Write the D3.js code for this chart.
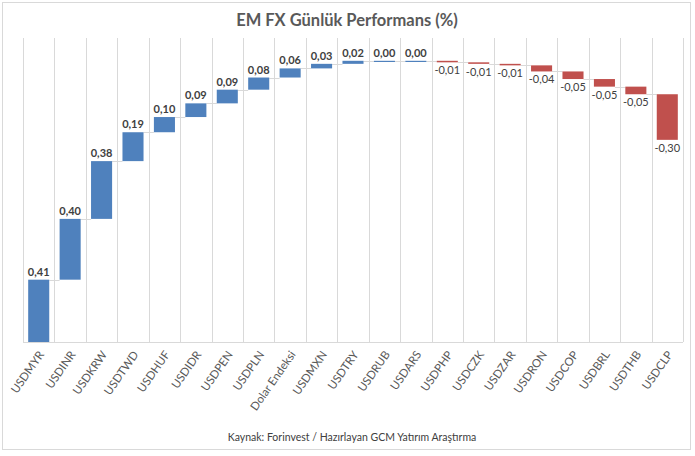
<!DOCTYPE html>
<html>
<head>
<meta charset="utf-8">
<script src="https://cdn.jsdelivr.net/npm/d3@7"></script>
<style>
  body { margin: 0; background: #fff; }
  text { font-family: Lato, "Open Sans", sans-serif; }
</style>
</head>
<body>
<div id="chart"></div>
<script>
const categories = [
  "USDMYR", "USDINR", "USDKRW", "USDTWD", "USDHUF", "USDIDR", "USDPEN",
  "USDPLN", "Dolar Endeksi", "USDMXN", "USDTRY", "USDRUB", "USDARS",
  "USDPHP", "USDCZK", "USDZAR", "USDRON", "USDCOP", "USDBRL", "USDTHB", "USDCLP"
];
const values = [
  0.41, 0.40, 0.38, 0.19, 0.10, 0.09, 0.09,
  0.08, 0.06, 0.03, 0.02, 0.00, 0.00,
  -0.01, -0.01, -0.01, -0.04, -0.05, -0.05, -0.05, -0.30
];
const yDomain = [0, 2];

const width = 695;
const height = 456;
const margin = { top: 38, right: 12, bottom: 114, left: 23 };

const blue = "#4f81bd";
const red = "#c0504d";
const grid = "#d9d9d9";

// waterfall steps
let run = 0;
const steps = values.map((v, i) => {
  const start = run;
  run += v;
  return { name: categories[i], value: v, start: start, end: run };
});

const svg = d3
  .select("#chart")
  .append("svg")
  .attr("width", width)
  .attr("height", height);

svg
  .append("rect")
  .attr("x", 2.5)
  .attr("y", 2.5)
  .attr("width", 688)
  .attr("height", 447)
  .attr("fill", "#fff")
  .attr("stroke", grid);

const x = d3
  .scaleBand()
  .domain(categories)
  .range([margin.left, width - margin.right])
  .paddingInner(0.33)
  .paddingOuter(0.165);

const y = d3
  .scaleLinear()
  .domain(yDomain)
  .range([height - margin.bottom, margin.top]);

const step = x.step();
const cellLeft = (d) => x(d) - (step * x.paddingInner()) / 2;

// vertical gridlines at category edges
const edges = categories.map(cellLeft).concat([width - margin.right]);
svg
  .append("g")
  .selectAll("line")
  .data(edges)
  .enter()
  .append("line")
  .attr("x1", (d) => Math.round(d) + 0.5)
  .attr("x2", (d) => Math.round(d) + 0.5)
  .attr("y1", y(yDomain[1]))
  .attr("y2", y(0))
  .attr("stroke", grid)
  .attr("stroke-width", 1);

// x axis
const xAxis = svg
  .append("g")
  .attr("transform", `translate(0,${y(0) + 0.5})`)
  .call(d3.axisBottom(x).tickSize(0).tickPadding(0));

xAxis.select(".domain").attr("stroke", grid).attr("d", `M${margin.left},0H${width - margin.right}`);

xAxis
  .selectAll("text")
  .attr("fill", "#595959")
  .style("font-size", "11.5px")
  .attr("text-anchor", "end")
  .attr("dy", 0)
  .attr("transform", "translate(6,12) rotate(-55)");

// connectors
svg
  .append("g")
  .selectAll("line")
  .data(steps.slice(0, -1))
  .enter()
  .append("line")
  .attr("x1", (d) => x(d.name) + x.bandwidth())
  .attr("x2", (d, i) => x(categories[i + 1]))
  .attr("y1", (d) => Math.round(y(d.end)) + 0.5)
  .attr("y2", (d) => Math.round(y(d.end)) + 0.5)
  .attr("stroke", grid)
  .attr("stroke-width", 1);

// bars
svg
  .append("g")
  .selectAll("rect")
  .data(steps)
  .enter()
  .append("rect")
  .attr("x", (d) => x(d.name))
  .attr("width", x.bandwidth())
  .attr("y", (d) => y(Math.max(d.start, d.end)))
  .attr("height", (d) => Math.max(1.2, Math.abs(y(d.start) - y(d.end))))
  .attr("fill", (d) => (d.value < 0 ? red : blue));

// data labels
svg
  .append("g")
  .selectAll("text")
  .data(steps)
  .enter()
  .append("text")
  .attr("x", (d) => x(d.name) + x.bandwidth() / 2)
  .attr("y", (d) => (d.value < 0 ? y(d.end) + 12 : y(d.end) - 4))
  .attr("text-anchor", "middle")
  .attr("fill", "#404040")
  .style("font-size", "11px")
  .style("font-weight", (d) => (d.value < 0 ? "normal" : "bold"))
  .text((d) => d3.format(".2f")(d.value).replace(".", ",").replace("−", "-"));

// title
svg
  .append("text")
  .attr("x", 347)
  .attr("y", 26)
  .attr("text-anchor", "middle")
  .attr("fill", "#595959")
  .style("font-size", "16.5px")
  .style("font-weight", "bold")
  .text("EM FX Günlük Performans (%)");

// source
svg
  .append("text")
  .attr("x", 352)
  .attr("y", 441)
  .attr("text-anchor", "middle")
  .attr("fill", "#404040")
  .style("font-size", "10.5px")
  .text("Kaynak: Forinvest / Hazırlayan GCM Yatırım Araştırma");
</script>
</body>
</html>
